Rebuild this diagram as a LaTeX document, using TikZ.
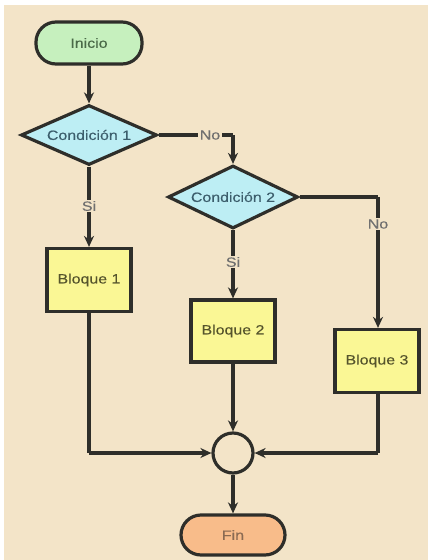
\documentclass[tikz,border=0pt]{standalone}
\usepackage{fontspec}
\setmainfont[FakeStretch=1.18,FakeBold=0.25]{Liberation Sans}
\usetikzlibrary{shapes.geometric,arrows.meta}
\definecolor{bg}{HTML}{F3E4C8}
\definecolor{ln}{HTML}{2E2E2A}
\definecolor{startc}{HTML}{C6F0BE}
\definecolor{condc}{HTML}{BDEEF4}
\definecolor{blockc}{HTML}{FAF795}
\definecolor{endc}{HTML}{F8BC8A}
\definecolor{lbl}{HTML}{707070}
\definecolor{tstart}{HTML}{4A6A48}
\definecolor{tcond}{HTML}{3C5E6C}
\definecolor{tblock}{HTML}{55542C}
\definecolor{tend}{HTML}{8A6A52}
\tikzset{
  base/.style={draw=ln, line width=3.2pt, font=\fontsize{13.5}{15}\selectfont},
  term/.style={base, rounded corners=20pt, minimum width=106pt, minimum height=42pt},
  cond/.style={base, diamond, aspect=2.2, fill=condc, inner sep=0pt, minimum width=136pt, minimum height=60pt, text=tcond},
  blockbox/.style={base, fill=blockc, minimum width=84pt, minimum height=63pt, text=tblock},
  joint/.style={draw=ln, line width=3.2pt, circle, minimum size=40pt, inner sep=0pt},
  conn/.style={draw=ln, line width=3.2pt, -{Stealth[length=11pt,width=10pt]}},
  seg/.style={draw=ln, line width=3.2pt},
  lab/.style={fill=bg, inner sep=1.5pt, text=lbl, font=\fontsize{13.5}{15}\selectfont}
}
\begin{document}
\begin{tikzpicture}[x=1pt,y=-1pt]
\useasboundingbox (0,0) rectangle (428,560);
\fill[white] (0,0) rectangle (428,560);
\fill[bg] (4,5) rectangle (428,560);
\node[term, fill=startc, text=tstart] (ini) at (89,43) {Inicio};
\node[cond] (c1) at (89,135) {Condición 1};
\node[cond, minimum width=130pt, minimum height=63pt] (c2) at (233,197) {Condición 2};
\node[blockbox] (b1) at (89,280) {Bloque 1};
\node[blockbox, minimum height=62pt] (b2) at (233,331) {Bloque 2};
\node[blockbox] (b3) at (377,361) {Bloque 3};
\node[joint] (j) at (233,453) {};
\node[term, fill=endc, minimum width=104pt, minimum height=40pt, text=tend] (fin) at (233,535) {Fin};
\coordinate (k1) at (233,135);
\coordinate (k2) at (378,197);
\coordinate (k3) at (89,453);
\coordinate (k4) at (378,453);
\draw[conn] (ini) -- (c1);
\draw[seg] (c1.east) -- (k1);
\draw[conn] (k1) -- (c2.north);
\node[lab] (no1) at (210,135) {No};
\draw[conn] (c1.south) -- (b1.north);
\node[lab] (si1) at (89,206) {Si};
\draw[conn] (c2.south) -- (b2.north);
\node[lab] (si2) at (233,262) {Si};
\draw[seg] (c2.east) -- (k2);
\draw[conn] (k2) -- (b3.north -| k2);
\node[lab] (no2) at (378,224) {No};
\draw[seg] (b1.south) -- (k3);
\draw[conn] (k3) -- (j.west);
\draw[conn] (b2.south) -- (j.north);
\draw[seg] (b3.south -| k4) -- (k4);
\draw[conn] (k4) -- (j.east);
\draw[conn] (j.south) -- (fin.north);
\end{tikzpicture}
\end{document}
